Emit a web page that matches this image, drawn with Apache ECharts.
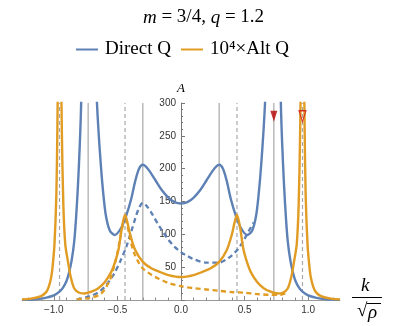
<!DOCTYPE html>
<html>
<head>
<meta charset="UTF-8" />
<script type="text/javascript" src="https://cdn.jsdelivr.net/npm/echarts@6/dist/echarts.min.js"></script>
<style>
  html, body { margin: 0; padding: 0; background: #fff; }
  #chartmain { width: 407px; height: 326px; }
</style>
</head>
<body>
<div id="chartmain"></div>
<script type="text/javascript">
// k / sqrt(rho) and A
var kDirect = [-1.25, -1.15, -1.1, -1.05, -1.0, -0.96, -0.93, -0.9, -0.88, -0.86, -0.84, -0.825, -0.81, -0.795, -0.785, -0.775, -0.73,
  -0.68, -0.665, -0.65, -0.63, -0.61, -0.59, -0.56, -0.52, -0.47, -0.43, -0.39, -0.36, -0.33, -0.3, -0.28, -0.25, -0.2, -0.15, -0.1, -0.05,
  0, 0.05, 0.1, 0.15, 0.2, 0.25, 0.28, 0.3, 0.33, 0.36, 0.39, 0.43, 0.47, 0.52, 0.56, 0.59, 0.61, 0.63, 0.65, 0.665, 0.68,
  0.73, 0.775, 0.785, 0.795, 0.81, 0.825, 0.84, 0.86, 0.88, 0.9, 0.93, 0.96, 1.0, 1.05, 1.1, 1.15, 1.25];
var aDirect = [0, 1, 2, 4, 7, 12, 18, 29, 42, 60, 88, 125, 175, 240, 300, 420, 600,
  450, 320, 262, 205, 160, 128, 106, 99, 110, 129, 155, 181, 200, 206, 204, 197, 182, 167, 156, 149,
  147, 149, 156, 167, 182, 197, 204, 206, 200, 181, 155, 129, 110, 99, 106, 128, 160, 205, 262, 320, 450,
  600, 420, 300, 240, 175, 125, 88, 60, 42, 29, 18, 12, 7, 4, 2, 1, 0];

var kDirectDash = [-0.82, -0.75, -0.7, -0.64, -0.6, -0.56, -0.52, -0.48, -0.43, -0.39, -0.36, -0.33, -0.3, -0.27, -0.23, -0.17, -0.1, -0.05,
  0, 0.05, 0.1, 0.2, 0.3, 0.35, 0.4, 0.45, 0.49, 0.53, 0.57];
var aDirectDash = [1, 4, 7, 13, 20, 30, 42, 58, 81, 105, 124, 140, 148, 143, 132, 112, 92, 81,
  73, 67, 62, 57, 57, 61, 68, 78, 90, 104, 118];

var kAlt = [-1.25, -1.18, -1.1, -1.06, -1.04, -1.02, -1.01, -0.995, -0.98, -0.972, -0.965, -0.955, -0.945, -0.937, -0.925, -0.91, -0.89, -0.87, -0.84, -0.8, -0.76,
  -0.7, -0.65, -0.6, -0.55, -0.52, -0.49, -0.465, -0.44, -0.42, -0.4, -0.36, -0.3, -0.23, -0.17, -0.1,
  0, 0.1, 0.17, 0.23, 0.3, 0.36, 0.4, 0.42, 0.44, 0.465, 0.49, 0.52, 0.55, 0.6, 0.65, 0.7,
  0.76, 0.8, 0.84, 0.87, 0.89, 0.91, 0.925, 0.937, 0.945, 0.955, 0.965, 0.972, 0.98, 0.995, 1.01, 1.02, 1.04, 1.06, 1.1, 1.18, 1.25];
var aAlt = [1, 2, 6, 12, 20, 35, 50, 84, 160, 260, 400, 700, 400, 260, 145, 85, 60, 38, 18, 11, 10,
  13, 18, 27, 42, 57, 78, 110, 130, 117, 100, 76, 58, 48, 43, 38,
  35, 38, 43, 48, 58, 76, 100, 117, 130, 110, 78, 57, 42, 27, 18, 13,
  10, 11, 18, 38, 60, 85, 145, 260, 400, 700, 400, 260, 160, 84, 50, 35, 20, 12, 6, 2, 1];

var kAltDash = [-0.82, -0.72, -0.64, -0.6, -0.56, -0.53, -0.5, -0.47, -0.45, -0.435, -0.42, -0.4, -0.37, -0.33, -0.3, -0.23, -0.17, -0.1,
  0, 0.1, 0.2, 0.3, 0.4, 0.5, 0.6, 0.7, 0.78, 0.82];
var aAltDash = [1, 3, 8, 16, 30, 48, 72, 103, 118, 121, 112, 93, 72, 56, 48, 38, 32, 26,
  21, 18, 16, 14, 12, 11, 9, 8, 8, 10];

var solidLinesK = [-0.73, -0.3, 0.3, 0.73];
var dashedLinesK = [-0.955, -0.44, 0.44, 0.955];

var markerK = [0.73, 0.955];
var markerA = [280, 280];

function pairs(ks, as) {
  return ks.map(function (k, i) { return [k, as[i]]; });
}

var blue = '#5E81B5';
var orange = '#E19C24';
var gray = '#a8a8a8';
var serif = "'Liberation Serif', 'Times New Roman', serif";
var sans = "'Liberation Sans', Arial, sans-serif";

var series = [];
solidLinesK.forEach(function (k) {
  series.push({ type: 'line', data: [[k, 0], [k, 300]], showSymbol: false, silent: true, z: 1,
    lineStyle: { color: gray, width: 1.2 } });
});
dashedLinesK.forEach(function (k) {
  series.push({ type: 'line', data: [[k, 0], [k, 300]], showSymbol: false, silent: true, z: 1,
    lineStyle: { color: gray, width: 1.2, type: [4, 3] } });
});
series.push(
  { name: 'Direct Q dashed', type: 'line', data: pairs(kDirectDash, aDirectDash), smooth: 0.3, showSymbol: false, z: 3,
    color: blue, lineStyle: { color: blue, width: 2.3, type: [5, 3.5] } },
  { name: 'Alt Q dashed', type: 'line', data: pairs(kAltDash, aAltDash), smooth: 0.3, showSymbol: false, z: 3,
    color: orange, lineStyle: { color: orange, width: 2.3, type: [5, 3.5] } },
  { name: 'Direct Q', type: 'line', data: pairs(kDirect, aDirect), smooth: 0.3, showSymbol: false, z: 4,
    color: blue, lineStyle: { color: blue, width: 2.4 } },
  { name: '10\u2074\u00d7Alt Q', type: 'line', data: pairs(kAlt, aAlt), smooth: 0.3, showSymbol: false, z: 5,
    color: orange, lineStyle: { color: orange, width: 2.4 } },
  { type: 'scatter', data: [[markerK[0], markerA[0]]], symbol: 'path://M0,0L10,0L5,16Z', symbolSize: [7, 11], z: 6,
    itemStyle: { color: '#b80000' } },
  { type: 'scatter', data: [[markerK[1], markerA[1]]], symbol: 'path://M0,0L10,0L5,16Z', symbolSize: [7, 11], z: 6,
    itemStyle: { color: 'rgba(255,255,255,0)', borderColor: '#d01010', borderWidth: 1.2 } }
);

var option = {
  animation: false,
  title: {
    text: '{i|m} = 3/4, {i|q} = 1.2',
    left: 'center', top: 3,
    textStyle: { fontFamily: serif, fontSize: 19, fontWeight: 'normal', color: '#000',
      rich: { i: { fontFamily: serif, fontSize: 19, fontStyle: 'italic', color: '#000' } } }
  },
  legend: {
    data: ['Direct Q', '10\u2074\u00d7Alt Q'],
    left: 76, top: 40, padding: 0,
    icon: 'rect', itemWidth: 22, itemHeight: 2, itemGap: 10,
    textStyle: { fontFamily: serif, fontSize: 19, color: '#000', padding: [0, 0, 0, 2] }
  },
  grid: [
    { left: 22, right: 67, top: 103, bottom: 26 },
    { left: 28.4, right: 73.4, top: 103, bottom: 26 },
    { left: 53.8, right: 98.8, top: 103, bottom: 26 }
  ],
  xAxis: [
    { gridIndex: 0, type: 'value', min: -1.25, max: 1.25,
      axisLine: { lineStyle: { color: '#999', width: 1 } },
      axisTick: { show: false }, axisLabel: { show: false }, splitLine: { show: false } },
    { gridIndex: 1, type: 'value', min: -1.2, max: 1.2, interval: 0.1,
      axisLine: { show: false }, axisLabel: { show: false }, splitLine: { show: false },
      axisTick: { inside: true, length: 2.5, lineStyle: { color: '#888' } } },
    { gridIndex: 2, type: 'value', min: -1.0, max: 1.0, interval: 0.5,
      axisLine: { show: false }, splitLine: { show: false },
      axisTick: { inside: true, length: 4, lineStyle: { color: '#888' } },
      axisLabel: { margin: 5, fontFamily: sans, fontSize: 10, color: '#333',
        formatter: function (v) { return (v < 0 ? '\u2212' : '') + Math.abs(v).toFixed(1); } } }
  ],
  yAxis: [
    { gridIndex: 0, type: 'value', min: 0, max: 300, interval: 50,
      position: 'left', offset: -159,
      name: 'A', nameLocation: 'end', nameGap: 8,
      nameTextStyle: { fontFamily: serif, fontStyle: 'italic', fontSize: 13, color: '#000' },
      axisLine: { show: true, onZero: false, lineStyle: { color: '#777', width: 1 } },
      axisTick: { show: true, inside: true, length: 4, lineStyle: { color: '#777' } },
      minorTick: { show: true, splitNumber: 5, length: 2, lineStyle: { color: '#777' } },
      splitLine: { show: false },
      axisLabel: { margin: 5, fontFamily: sans, fontSize: 10, color: '#333',
        formatter: function (v) { return v === 0 ? '' : String(v); } } },
    { gridIndex: 1, type: 'value', min: 0, max: 1, show: false },
    { gridIndex: 2, type: 'value', min: 0, max: 1, show: false }
  ],
  graphic: [
    { type: 'text', left: 361, top: 276, style: { text: 'k', fontFamily: serif, fontStyle: 'italic', fontSize: 19, fill: '#000' } },
    { type: 'line', shape: { x1: 352, y1: 297.5, x2: 382, y2: 297.5 }, style: { stroke: '#000', lineWidth: 1 } },
    { type: 'text', left: 357, top: 302, style: { text: '\u221a', fontFamily: serif, fontSize: 19, fill: '#000' } },
    { type: 'line', shape: { x1: 367, y1: 303.5, x2: 381, y2: 303.5 }, style: { stroke: '#000', lineWidth: 1 } },
    { type: 'text', left: 368, top: 303, style: { text: '\u03c1', fontFamily: serif, fontStyle: 'italic', fontSize: 19, fill: '#000' } }
  ],
  series: series
};

var myChart = echarts.init(document.getElementById('chartmain'));
myChart.setOption(option);
</script>
</body>
</html>
